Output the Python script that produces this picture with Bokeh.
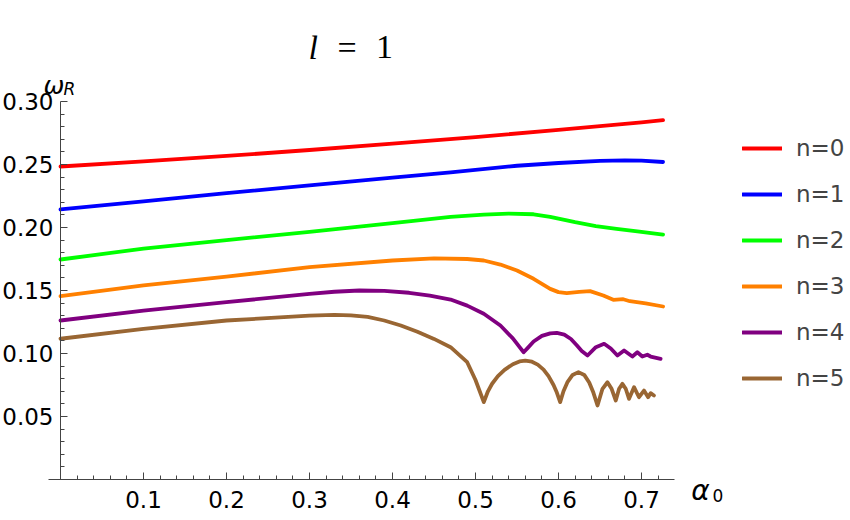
from bokeh.plotting import figure
from bokeh.models import (FixedTicker, PrintfTickFormatter, Legend, LegendItem,
                          Label, Range1d)
from bokeh.embed import file_html
from bokeh.resources import INLINE

# ---------------- data ----------------
x0 = [0, 0.1, 0.2, 0.3, 0.4, 0.5, 0.6, 0.7, 0.726]
y0 = [0.2484, 0.2525, 0.2568, 0.2615, 0.2665, 0.2718, 0.2775, 0.2835, 0.2852]

x1 = [0, 0.1, 0.2, 0.3, 0.4, 0.47, 0.55, 0.6, 0.65, 0.68, 0.7, 0.726]
y1 = [0.2143, 0.2207, 0.2272, 0.2335, 0.2395, 0.2437, 0.2490, 0.2512, 0.2528, 0.2532, 0.2530, 0.2520]

x2 = [0, 0.1, 0.2, 0.3, 0.4, 0.47, 0.51, 0.54, 0.57, 0.59, 0.62, 0.645, 0.67, 0.695, 0.726]
y2 = [0.1746, 0.1833, 0.1900, 0.1965, 0.2035, 0.2085, 0.2102, 0.2110, 0.2105, 0.2085, 0.2042, 0.2011, 0.1990, 0.1970, 0.1944]

x3 = [0, 0.1, 0.2, 0.3, 0.4, 0.45, 0.49, 0.51, 0.53, 0.55, 0.57, 0.59, 0.60, 0.61, 0.625,
      0.638, 0.654, 0.666, 0.678, 0.686, 0.705, 0.726]
y3 = [0.1455, 0.1540, 0.1610, 0.1685, 0.1738, 0.1755, 0.1750, 0.1738, 0.1706, 0.1659,
      0.1593, 0.1513, 0.1487, 0.1480, 0.1489, 0.1495, 0.1460, 0.1426, 0.1431, 0.1415, 0.1398, 0.1373]

x4 = [0, 0.1, 0.2, 0.3, 0.33, 0.36, 0.39, 0.42, 0.445, 0.47, 0.49, 0.51, 0.53, 0.545,
      0.552, 0.558, 0.563, 0.57, 0.58, 0.59, 0.598, 0.607, 0.615, 0.622, 0.628, 0.635,
      0.645, 0.655, 0.663, 0.671, 0.679, 0.689, 0.695, 0.701, 0.707, 0.711, 0.723]
y4 = [0.1262, 0.1340, 0.1407, 0.1473, 0.1490, 0.1500, 0.1497, 0.1482, 0.1460, 0.1428,
      0.1380, 0.1315, 0.1222, 0.1120, 0.1060, 0.1010, 0.1045, 0.1095, 0.1140, 0.1160,
      0.1164, 0.1150, 0.1115, 0.1065, 0.1020, 0.0984, 0.1050, 0.1077, 0.1040, 0.0984,
      0.1024, 0.0976, 0.1010, 0.0976, 0.0990, 0.0976, 0.0958]

x5 = [0, 0.1, 0.2, 0.3, 0.33, 0.35, 0.37, 0.39, 0.41, 0.43, 0.45, 0.47, 0.49, 0.50, 0.51,
      0.515, 0.52, 0.527, 0.535, 0.545, 0.553, 0.56, 0.568, 0.575, 0.582, 0.588, 0.594,
      0.598, 0.602, 0.606, 0.611, 0.617, 0.624, 0.631, 0.637, 0.642, 0.647, 0.653, 0.659,
      0.664, 0.669, 0.673, 0.677, 0.681, 0.685, 0.691, 0.697, 0.703, 0.708, 0.711, 0.715]
y5 = [0.1117, 0.1196, 0.1262, 0.1300, 0.1307, 0.1302, 0.1290, 0.1262, 0.1222, 0.1172,
      0.1116, 0.1050, 0.0931, 0.0790, 0.0614, 0.0700, 0.0760, 0.0820, 0.0870, 0.0915,
      0.0937, 0.0944, 0.0935, 0.0912, 0.0872, 0.0820, 0.0750, 0.0690, 0.0614, 0.0700,
      0.0775, 0.0830, 0.0852, 0.0830, 0.0770, 0.0690, 0.0587, 0.0720, 0.0772, 0.0720,
      0.0627, 0.0720, 0.0759, 0.0720, 0.0640, 0.0733, 0.0653, 0.0706, 0.0653, 0.0685,
      0.0667]

series_x = [x0, x1, x2, x3, x4, x5]
series_y = [y0, y1, y2, y3, y4, y5]
labels = ["n=0", "n=1", "n=2", "n=3", "n=4", "n=5"]
colors = ["#FF0000", "#0000FF", "#00FF00", "#FF8000", "#800080", "#996633"]

y_major = [0.05, 0.10, 0.15, 0.20, 0.25, 0.30]
y_minor = [0.01, 0.02, 0.03, 0.04, 0.06, 0.07, 0.08, 0.09, 0.11, 0.12, 0.13, 0.14,
           0.16, 0.17, 0.18, 0.19, 0.21, 0.22, 0.23, 0.24, 0.26, 0.27, 0.28, 0.29]
x_major = [0.1, 0.2, 0.3, 0.4, 0.5, 0.6, 0.7]
x_minor = [0.02, 0.04, 0.06, 0.08, 0.12, 0.14, 0.16, 0.18, 0.22, 0.24, 0.26, 0.28,
           0.32, 0.34, 0.36, 0.38, 0.42, 0.44, 0.46, 0.48, 0.52, 0.54, 0.56, 0.58,
           0.62, 0.64, 0.66, 0.68, 0.72]

# ---------------- figure ----------------
# the frame covers the whole canvas; the axes are pinned at x=0 and y=0
p = figure(width=850, height=520, output_backend="svg", toolbar_location=None,
           x_range=Range1d(-0.07229, 0.95181), y_range=Range1d(-0.03254, 0.38016),
           min_border_left=0, min_border_right=0, min_border_top=0,
           min_border_bottom=0)
p.outline_line_color = None
p.xgrid.visible = False
p.ygrid.visible = False
p.background_fill_color = "white"
p.border_fill_color = "white"

renderers = []
for xs, ys, c in zip(series_x, series_y, colors):
    r = p.line(xs, ys, line_color=c, line_width=3.8, line_join="round", line_cap="round")
    renderers.append(r)

for ax in (p.xaxis[0], p.yaxis[0]):
    ax.fixed_location = 0
    ax.axis_line_color = "#444444"
    ax.major_tick_line_color = "#444444"
    ax.minor_tick_line_color = "#444444"
    ax.major_tick_in = 7
    ax.major_tick_out = 0
    ax.minor_tick_in = 4
    ax.minor_tick_out = 0
    ax.major_label_text_font = "DejaVu Sans"
    ax.major_label_text_font_size = "23px"
    ax.major_label_text_color = "#000000"

p.yaxis[0].bounds = (0, 0.30)
p.yaxis[0].ticker = FixedTicker(ticks=y_major, minor_ticks=y_minor)
p.yaxis[0].formatter = PrintfTickFormatter(format="%.2f")
p.yaxis[0].major_label_standoff = 7
p.xaxis[0].bounds = (-0.0145, 0.74)
p.xaxis[0].ticker = FixedTicker(ticks=x_major, minor_ticks=x_minor)
p.xaxis[0].formatter = PrintfTickFormatter(format="%.1f")
p.xaxis[0].major_label_standoff = 12

legend = Legend(items=[LegendItem(label=l, renderers=[r]) for l, r in zip(labels, renderers)],
                location=(742, 129), glyph_width=40, glyph_height=26, label_height=26,
                label_text_font="DejaVu Sans", label_text_font_size="23px",
                spacing=20, padding=0, margin=0, label_standoff=14,
                border_line_alpha=0, background_fill_alpha=0)
p.add_layout(legend, "center")

# ---------------- title and axis labels ----------------
def lab(text, x, y, size, font="DejaVu Sans", style="normal"):
    p.add_layout(Label(x=x, y=y, text=text, text_font=font, text_font_size=size,
                       text_font_style=style, text_baseline="alphabetic",
                       text_color="#000000"))

lab("l", 0.2988, 0.3429, "34px", font="Liberation Serif", style="italic")
lab("=", 0.3337, 0.3429, "34px", font="Liberation Serif")
lab("1", 0.3800, 0.3429, "34px", font="Liberation Serif")

lab("ω", -0.0205, 0.3127, "25px", style="italic")
lab("R", 0.0036, 0.3103, "17px", style="italic")

lab("α", 0.7600, -0.0087, "28px", style="italic")
lab("0", 0.7855, -0.0127, "17px")

open("out.html", "w").write(file_html(p, INLINE))
